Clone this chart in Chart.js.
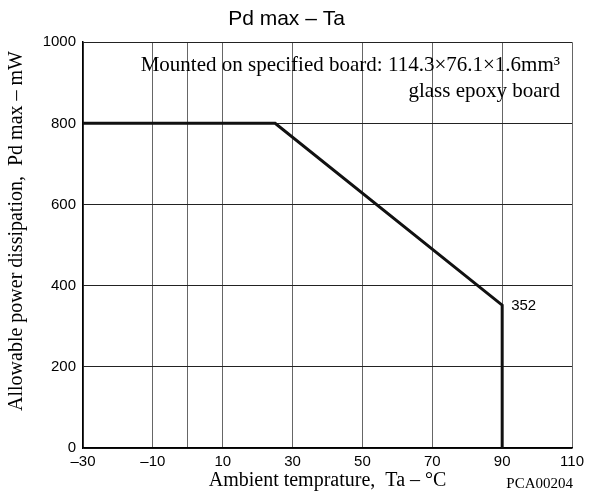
<!DOCTYPE html>
<html>
<head>
<meta charset="utf-8">
<script src="https://cdn.jsdelivr.net/npm/chart.js@4/dist/chart.umd.min.js"></script>
<style>
  body { margin: 0; background: #fff; }
  #wrap { width: 589px; height: 497px; }
</style>
</head>
<body>
<div id="wrap"><canvas id="pdChart" width="589" height="497"></canvas></div>
<script>
// derating curve
var ambientTemp = [-30, 25, 90, 90];
var pdMax = [800, 800, 352, 0];

// x axis: labels every 20, plus a grid line at 0
var xTickValues = [-30, -10, 0, 10, 30, 50, 70, 90, 110];
var xTickLabels = ["–30", "–10", "", "10", "30", "50", "70", "90", "110"];
var yTickValues = [0, 200, 400, 600, 800, 1000];

var serif = "'Liberation Serif', 'Times New Roman', serif";
var sans = "'Liberation Sans', Arial, sans-serif";

// extra texts drawn on the chart
var textPlugin = {
  id: "extraText",
  afterDraw: function (chart) {
    var ctx = chart.ctx;
    var x = chart.scales.x;
    var y = chart.scales.y;
    ctx.save();
    ctx.fillStyle = "#000";
    ctx.textBaseline = "middle";

    ctx.font = "21px " + serif;
    ctx.textAlign = "right";
    ctx.fillText("Mounted on specified board: 114.3×76.1×1.6mm³", x.right - 12, 65);
    ctx.fillText("glass epoxy board", x.right - 12, 91);

    // end point value
    ctx.font = "15px " + sans;
    ctx.textAlign = "left";
    ctx.fillText("352", x.getPixelForValue(90) + 9, y.getPixelForValue(352) + 1);

    ctx.font = "15px " + serif;
    ctx.textAlign = "right";
    ctx.fillText("PCA00204", x.right + 1, 484);

    // y axis title
    ctx.font = "20px " + serif;
    ctx.textAlign = "center";
    ctx.translate(17, 231);
    ctx.rotate(-Math.PI / 2);
    ctx.fillText("Allowable power dissipation,  Pd max – mW", 0, 0);
    ctx.restore();
  },
};

var ctx = document.getElementById("pdChart").getContext("2d");

var pdChart = new Chart(ctx, {
  type: "scatter",
  data: {
    datasets: [
      {
        data: ambientTemp.map(function (t, i) { return { x: t, y: pdMax[i] }; }),
        showLine: true,
        borderColor: "#111",
        borderWidth: 3,
        pointRadius: 0,
        tension: 0,
      },
    ],
  },
  options: {
    responsive: false,
    animation: false,
    layout: { padding: { top: 0, right: 16, bottom: 0, left: 0 } },
    plugins: {
      legend: { display: false },
      tooltip: { enabled: false },
      title: {
        display: true,
        text: "Pd max – Ta",
        color: "#000",
        font: { family: sans, size: 21, weight: "normal" },
        padding: { top: 7, bottom: 10 },
      },
    },
    scales: {
      x: {
        type: "linear",
        min: -30,
        max: 110,
        afterBuildTicks: function (scale) {
          scale.ticks = xTickValues.map(function (v) { return { value: v }; });
        },
        afterFit: function (scale) { scale.height = 49; },
        ticks: {
          color: "#000",
          padding: 5,
          maxRotation: 0,
          autoSkip: false,
          font: { family: sans, size: 15 },
          callback: function (value) {
            var i = xTickValues.indexOf(value);
            return i >= 0 ? xTickLabels[i] : "";
          },
        },
        grid: { color: "#666", lineWidth: 1, drawTicks: false },
        border: { color: "#000", width: 1.5 },
        title: {
          display: true,
          text: "Ambient temprature,  Ta – °C",
          color: "#000",
          font: { family: serif, size: 20 },
          padding: { top: 0, bottom: 4 },
        },
      },
      y: {
        type: "linear",
        min: 0,
        max: 1000,
        afterBuildTicks: function (scale) {
          scale.ticks = yTickValues.map(function (v) { return { value: v }; });
        },
        afterFit: function (scale) { scale.width = 83; },
        ticks: {
          color: "#000",
          padding: 7,
          font: { family: sans, size: 15 },
          callback: function (value) { return String(value); },
        },
        grid: { color: "#222", lineWidth: 1, drawTicks: false },
        border: { color: "#000", width: 1.5 },
      },
    },
  },
  plugins: [textPlugin],
});
</script>
</body>
</html>
